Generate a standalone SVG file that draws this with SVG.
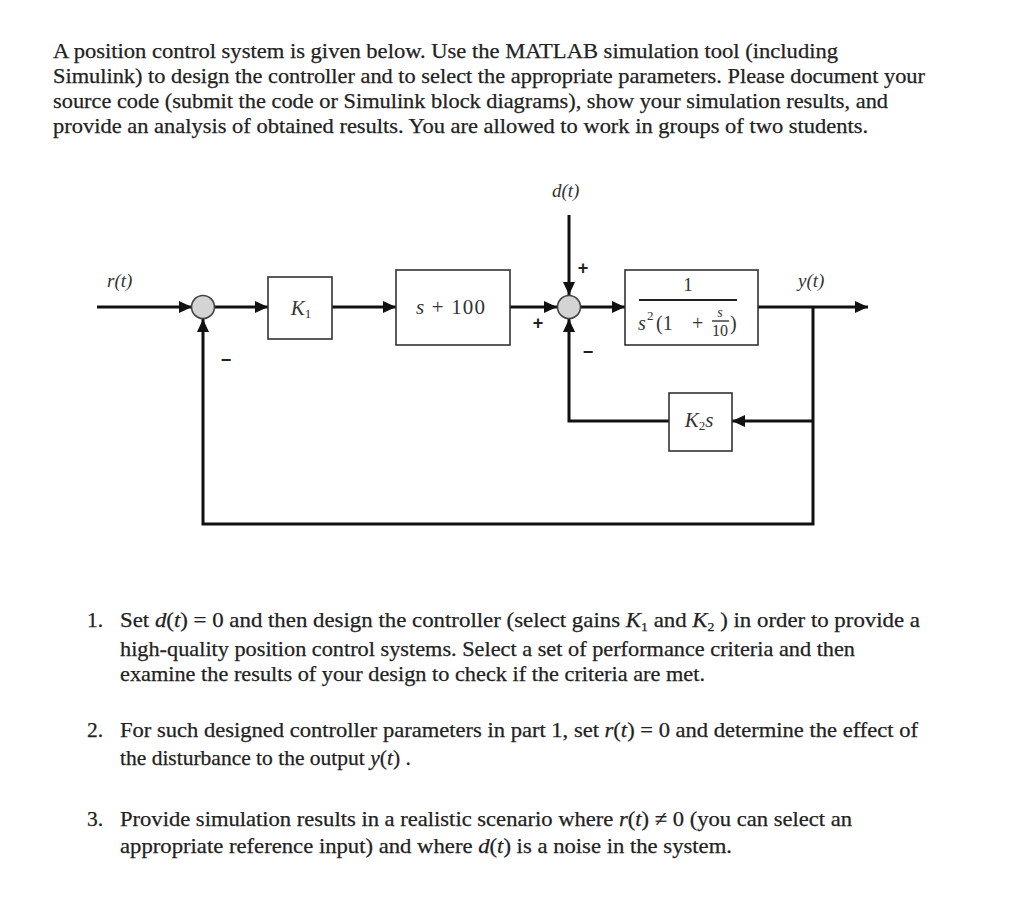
<svg xmlns="http://www.w3.org/2000/svg" width="1024" height="923" viewBox="0 0 1024 923">
<defs>
<marker id="ah" markerUnits="userSpaceOnUse" markerWidth="14" markerHeight="12" refX="13" refY="6" orient="auto">
<path d="M0,0 L13,6 L0,12 z" fill="#111"/>
</marker>
<style>
.t{font-family:"Liberation Serif","Times New Roman",serif;fill:#222;stroke:#222;stroke-width:0.25;}
.p{font-size:21.5px;}
.m{font-family:"Liberation Serif","Times New Roman",serif;fill:#333;}
.i{font-style:italic;}
.box{fill:#fff;stroke:#333;stroke-width:1.6;}
.sum{fill:#d4d4d4;stroke:#444;stroke-width:1.6;}
.w{fill:none;stroke:#111;stroke-width:3;stroke-linejoin:miter;}
.a{marker-end:url(#ah);}
.sg{font-family:"Liberation Sans",Arial,sans-serif;font-weight:bold;fill:#222;font-size:18px;}
</style>
</defs>
<rect width="1024" height="923" fill="#fff"/>

<g id="intro" class="t p">
<text x="53" y="58" textLength="785" lengthAdjust="spacingAndGlyphs">A position control system is given below. Use the MATLAB simulation tool (including</text>
<text x="53" y="83" textLength="872" lengthAdjust="spacingAndGlyphs">Simulink) to design the controller and to select the appropriate parameters. Please document your</text>
<text x="53" y="108" textLength="835" lengthAdjust="spacingAndGlyphs">source code (submit the code or Simulink block diagrams), show your simulation results, and</text>
<text x="53" y="133" textLength="815" lengthAdjust="spacingAndGlyphs">provide an analysis of obtained results. You are allowed to work in groups of two students.</text>
</g>

<g id="connectors">
<path class="w a" d="M97,307 H192"/>
<path class="w a" d="M215,307 H268"/>
<path class="w a" d="M332,307 H396"/>
<path class="w a" d="M510,307 H557"/>
<path class="w a" d="M569,215 V295"/>
<path class="w a" d="M581,307 H625"/>
<path class="w a" d="M758,307 H868"/>
<path class="w a" d="M813,307 V524 H203 V319"/>
<path class="w a" d="M813,421 H732"/>
<path class="w a" d="M669,421 H569 V319"/>
</g>

<g id="sum1">
<circle class="sum" cx="203" cy="307" r="11.5"/>
<text class="sg" x="226" y="366" text-anchor="middle">−</text>
</g>
<g id="sum2">
<circle class="sum" cx="569" cy="307" r="11.5"/>
<text class="sg" x="583" y="274" text-anchor="middle">+</text>
<text class="sg" x="538" y="329" text-anchor="middle">+</text>
<text class="sg" x="588" y="358" text-anchor="middle">−</text>
</g>

<g id="label-r">
<text class="m i" x="107" y="287" font-size="19">r(t)</text>
</g>
<g id="label-d">
<text class="m i" x="552" y="197" font-size="19">d(t)</text>
</g>
<g id="label-y">
<text class="m i" x="798" y="287" font-size="19">y(t)</text>
</g>

<g id="K1">
<rect class="box" x="268" y="277" width="64" height="62"/>
<text class="m" x="301" y="315" font-size="21" text-anchor="middle"><tspan class="i">K</tspan><tspan font-size="13" dy="3">1</tspan></text>
</g>

<g id="lead">
<rect class="box" x="396" y="270" width="114" height="75"/>
<text class="m" x="416" y="314" font-size="21" textLength="69" lengthAdjust="spacing"><tspan class="i">s</tspan> + 100</text>
</g>

<g id="plant">
<rect class="box" x="625" y="270" width="133" height="75"/>
<text class="m" x="688" y="291" font-size="19" text-anchor="middle">1</text>
<line x1="639" y1="300" x2="737" y2="300" stroke="#222" stroke-width="2"/>
<text class="m" font-size="20" y="330"><tspan class="i" x="638">s</tspan><tspan x="647" y="320" font-size="13">2</tspan><tspan x="656" y="330">(1</tspan><tspan x="692" y="330">+</tspan><tspan x="730" y="330">)</tspan></text>
<text class="m i" x="720" y="317" font-size="14" text-anchor="middle">s</text>
<line x1="712" y1="321" x2="729" y2="321" stroke="#222" stroke-width="1.3"/>
<text class="m" x="720" y="336" font-size="16" text-anchor="middle">10</text>
</g>

<g id="K2s">
<rect class="box" x="669" y="393" width="63" height="58"/>
<text class="m" x="699" y="427" font-size="21" text-anchor="middle"><tspan class="i">K</tspan><tspan font-size="13" dy="3">2</tspan><tspan class="i" dy="-3">s</tspan></text>
</g>

<g id="questions" class="t p">
<text x="87" y="627">1.</text>
<text x="120" y="627" textLength="800" lengthAdjust="spacingAndGlyphs">Set <tspan class="i">d</tspan>(<tspan class="i">t</tspan>) = 0 and then design the controller (select gains <tspan class="i">K</tspan><tspan font-size="13" dy="4">1</tspan><tspan dy="-4"> and </tspan><tspan class="i">K</tspan><tspan font-size="13" dy="4">2</tspan><tspan dy="-4"> ) in order to provide a</tspan></text>
<text x="120" y="656" textLength="735" lengthAdjust="spacingAndGlyphs">high-quality position control systems. Select a set of performance criteria and then</text>
<text x="120" y="681" textLength="585" lengthAdjust="spacingAndGlyphs">examine the results of your design to check if the criteria are met.</text>
<text x="87" y="737">2.</text>
<text x="120" y="737" textLength="798" lengthAdjust="spacingAndGlyphs">For such designed controller parameters in part 1, set <tspan class="i">r</tspan>(<tspan class="i">t</tspan>) = 0 and determine the effect of</text>
<text x="120" y="765">the disturbance to the output  <tspan class="i">y</tspan>(<tspan class="i">t</tspan>) .</text>
<text x="87" y="826">3.</text>
<text x="120" y="826" textLength="732" lengthAdjust="spacingAndGlyphs">Provide simulation results in a realistic scenario where <tspan class="i">r</tspan>(<tspan class="i">t</tspan>) ≠ 0  (you can select an</text>
<text x="120" y="853" textLength="612" lengthAdjust="spacingAndGlyphs">appropriate reference input) and where <tspan class="i">d</tspan>(<tspan class="i">t</tspan>) is a noise in the system.</text>
</g>
</svg>
